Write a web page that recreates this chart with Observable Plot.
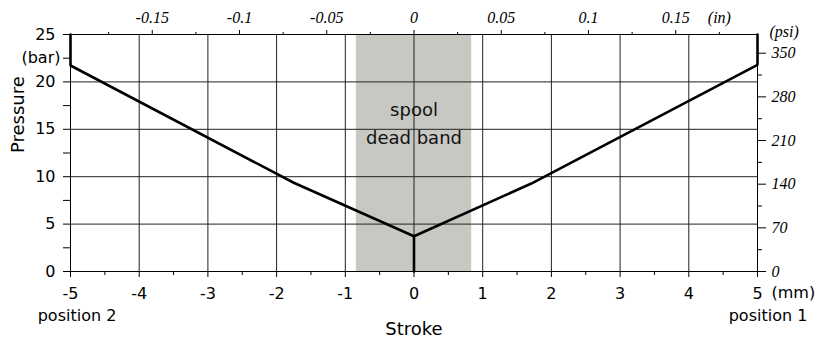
<!DOCTYPE html>
<html>
<head>
<meta charset="utf-8">
<script src="https://cdn.jsdelivr.net/npm/d3@7"></script>
<script src="https://cdn.jsdelivr.net/npm/@observablehq/plot@0.6"></script>
<style>
  html, body { margin: 0; padding: 0; background: white; }
  #chart svg { display: block; }
</style>
</head>
<body>
<div id="chart"></div>
<script>
// ---- data ----
const strokeMajor = [-5, -4, -3, -2, -1, 0, 1, 2, 3, 4, 5];                 // mm
const strokeMinor = [-4.5, -3.5, -2.5, -1.5, -0.5, 0.5, 1.5, 2.5, 3.5, 4.5];  // mm
const pressureMajor = [0, 5, 10, 15, 20, 25];                               // bar
const pressureMinor = [2.5, 7.5, 12.5, 17.5, 22.5];                         // bar
const inchMajor = [-0.15, -0.1, -0.05, 0, 0.05, 0.1, 0.15];
const inchMinor = [-0.175, -0.125, -0.075, -0.025, 0.025, 0.075, 0.125, 0.175];
const psiMajor = [0, 70, 140, 210, 280, 350];
const psiMinor = [35, 105, 175, 245, 315];
const deadBand = [-0.84, 0.84];                                             // mm

const pos2Stroke = [-5, -5, -1.75, 0];
const pos2Pressure = [25, 21.73, 9.36, 3.72];
const pos1Stroke = [0, 1.70, 5, 5];
const pos1Pressure = [3.72, 9.25, 21.8, 25];
const centerStroke = [0, 0];
const centerPressure = [0, 3.72];

const mmPerInch = 25.4;
const psiPerBar = 15.2;

// ---- table ----
const rows = [
  ...pos2Stroke.map((x, i) => ({series: "position 2", x, p: pos2Pressure[i]})),
  ...pos1Stroke.map((x, i) => ({series: "position 1", x, p: pos1Pressure[i]})),
  ...centerStroke.map((x, i) => ({series: "center", x, p: centerPressure[i]}))
];

const serif = {fontFamily: "Liberation Serif", fontStyle: "italic", fontSize: 16};

const chart = Plot.plot({
  width: 817,
  height: 339,
  marginLeft: 70,
  marginRight: 60,
  marginTop: 34,
  marginBottom: 68,
  x: {domain: [-5, 5]},
  y: {domain: [0, 25]},
  style: {fontFamily: "DejaVu Sans", fontSize: "16px", background: "white", color: "black"},
  marks: [
    Plot.rect([deadBand], {x1: d => d[0], x2: d => d[1], y1: 0, y2: 25, fill: "#c8c8c3"}),
    Plot.ruleX(strokeMajor, {stroke: "#222", strokeWidth: 1}),
    Plot.ruleY(pressureMajor, {stroke: "#222", strokeWidth: 1}),
    Plot.text(["spool"], {x: 0, y: 17.0, text: d => d, fontSize: 18, fill: "#111"}),
    Plot.text(["dead band"], {x: 0, y: 14.05, text: d => d, fontSize: 18, fill: "#111"}),
    Plot.line(rows, {x: "x", y: "p", z: "series", stroke: "black", strokeWidth: 2.6, strokeLinejoin: "miter"}),
    Plot.frame({stroke: "black", strokeWidth: 1}),
    // bottom axis (mm)
    Plot.axisX({anchor: "bottom", ticks: strokeMinor, tickSize: 4, tickFormat: () => "", label: null}),
    Plot.axisX({anchor: "bottom", ticks: strokeMajor, tickSize: 6, tickPadding: 10, tickFormat: d => String(d), label: null}),
    // top axis (in)
    Plot.axisX({anchor: "top", ticks: inchMinor.map(v => v * mmPerInch), tickSize: 3, tickPadding: 9,
      tickFormat: d => (Math.abs(d / mmPerInch - 0.175) < 1e-6 ? "(in)" : ""), label: null}),
    Plot.axisX({anchor: "top", ticks: inchMajor.map(v => v * mmPerInch), tickSize: 5, tickPadding: 7,
      tickFormat: d => String(+(d / mmPerInch).toFixed(3)), label: null}),
    // left axis (bar)
    Plot.axisY({anchor: "left", ticks: pressureMinor, tickSize: 7, tickPadding: 3,
      tickFormat: d => (d === 22.5 ? "(bar)" : ""), label: null}),
    Plot.axisY({anchor: "left", ticks: pressureMajor, tickSize: 7, tickPadding: 8, tickFormat: d => String(d), label: null}),
    // right axis (psi)
    Plot.axisY({anchor: "right", ticks: psiMinor.map(p => p / psiPerBar), tickSize: 4, tickFormat: () => "", label: null}),
    Plot.axisY({anchor: "right", ticks: psiMajor.map(p => p / psiPerBar), tickSize: 8, tickPadding: 6,
      tickFormat: d => String(Math.round(d * psiPerBar)), label: null}),
    // labels
    Plot.text(["(psi)"], {x: 5, y: 25, text: d => d, textAnchor: "start", dx: 12, dy: -3, ...serif}),
    Plot.text(["(mm)"], {x: 5, frameAnchor: "bottom", text: d => d, textAnchor: "start", dx: 14, dy: 26, fontSize: 16}),
    Plot.text(["position 2"], {x: -5, frameAnchor: "bottom", text: d => d, dx: 6.5, dy: 49, fontSize: 16}),
    Plot.text(["position 1"], {x: 5, frameAnchor: "bottom", text: d => d, dx: 10.5, dy: 49, fontSize: 16}),
    Plot.text(["Stroke"], {x: 0, frameAnchor: "bottom", text: d => d, dy: 63, fontSize: 18}),
    Plot.text(["Pressure"], {frameAnchor: "left", text: d => d, rotate: -90, dx: -52, fontSize: 18})
  ]
});

document.getElementById("chart").appendChild(chart);

// style tick labels: sans for mm / bar, italic serif for in / psi (decided by on-screen position)
const svgBox = chart.getBoundingClientRect();
d3.select(chart).selectAll('g[aria-label$="tick label"] text').each(function () {
  const t = d3.select(this);
  const r = this.getBoundingClientRect();
  const cx = (r.left + r.right) / 2 - svgBox.left;
  const cy = (r.top + r.bottom) / 2 - svgBox.top;
  if (cy < 34 || (cx > 764 && cy < 280)) {
    t.style("font-family", "'Liberation Serif', serif").style("font-style", "italic").style("font-size", "16px");
  } else {
    t.style("font-family", "'DejaVu Sans'").style("font-size", "16px");
  }
});
</script>
</body>
</html>
